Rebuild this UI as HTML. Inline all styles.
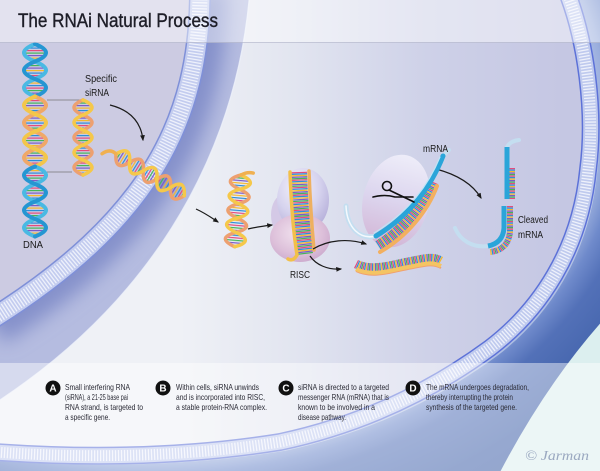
<!DOCTYPE html>
<html><head><meta charset="utf-8"><style>
html,body{margin:0;padding:0;background:#fff;}
svg{display:block;}
</style></head><body>
<svg width="600" height="471" viewBox="0 0 600 471" xmlns="http://www.w3.org/2000/svg">
<defs>
 <linearGradient id="cyto" gradientUnits="userSpaceOnUse" x1="180" y1="0" x2="560" y2="0">
  <stop offset="0" stop-color="#eff1f6"/>
  <stop offset="0.3" stop-color="#e2e5f0"/>
  <stop offset="0.65" stop-color="#ced1e8"/>
  <stop offset="1" stop-color="#c5c7e3"/>
 </linearGradient>
 <radialGradient id="outer" gradientUnits="userSpaceOnUse" cx="0" cy="0" r="1.4" gradientTransform="translate(150,110) scale(455,350)">
  <stop offset="0.68" stop-color="#b8c6ea"/>
  <stop offset="0.715" stop-color="#9aaedd"/>
  <stop offset="0.745" stop-color="#6f8acb"/>
  <stop offset="0.78" stop-color="#5371b8"/>
  <stop offset="0.88" stop-color="#4061a9"/>
  <stop offset="1" stop-color="#3a5aa3"/>
 </radialGradient>
 <radialGradient id="lav" cx="0.4" cy="0.3" r="0.7"><stop offset="0" stop-color="#f4f2fb"/><stop offset="0.6" stop-color="#d6d3ee"/><stop offset="1" stop-color="#b9b3dc"/></radialGradient>
 <radialGradient id="pnk" cx="0.45" cy="0.4" r="0.7"><stop offset="0" stop-color="#f1e2ee"/><stop offset="0.6" stop-color="#ddc0da"/><stop offset="1" stop-color="#c6a3c9"/></radialGradient>
 <linearGradient id="blob2" x1="0" y1="0" x2="0" y2="1"><stop offset="0" stop-color="#eeedf9"/><stop offset="0.5" stop-color="#dcd5ee"/><stop offset="1" stop-color="#d3b6d6"/></linearGradient>
 <pattern id="bph" patternUnits="userSpaceOnUse" width="40" height="12.5">
  <rect y="0" width="40" height="1.2" fill="#e44b7c"/>
  <rect y="2.5" width="40" height="1.2" fill="#46b45a"/>
  <rect y="5" width="40" height="1.2" fill="#7b5bc6"/>
  <rect y="7.5" width="40" height="1.2" fill="#f4b82e"/>
  <rect y="10" width="40" height="1.2" fill="#2e8ed8"/>
 </pattern>
 <pattern id="bpv" patternUnits="userSpaceOnUse" width="12.5" height="40">
  <rect x="0" width="1.2" height="40" fill="#e44b7c"/>
  <rect x="2.5" width="1.2" height="40" fill="#46b45a"/>
  <rect x="5" width="1.2" height="40" fill="#7b5bc6"/>
  <rect x="7.5" width="1.2" height="40" fill="#f4b82e"/>
  <rect x="10" width="1.2" height="40" fill="#2e8ed8"/>
 </pattern>
 <filter id="bl" x="-50%" y="-50%" width="200%" height="200%"><feGaussianBlur stdDeviation="9"/></filter>
 <clipPath id="nucClip"><path d="M250,-10 C240,120 180,280 0,400 L-10,400 L-10,-10 Z"/></clipPath>
 <path id="nucm" d="M200,-10 C200,120 150,220 -10,320" fill="none"/>
 <path id="cellm" d="M568,-5 C585,40 596,110 588,170 C580,250 540,310 490,348 C430,392 360,425 280,442 C180,458 80,458 -5,452" fill="none"/>
 <marker id="ah" viewBox="0 0 10 10" refX="8" refY="5" markerWidth="5" markerHeight="5" orient="auto"><path d="M0,1 L10,5 L0,9 Z" fill="#1a1a1a"/></marker>
 <path id="risc" d="M299,172 C300,200 302,230 305,254" fill="none"/>
 <path id="unw" d="M356,264 C372,272 392,265 408,262 C424,259 432,256 441,261" fill="none"/>
 <path id="mr" d="M433,182 C424,204 404,230 378,246" fill="none"/>
 <path id="cu" d="M512,168 L512,199" fill="none"/>
 <path id="cl" d="M510,206 L510,232 Q508,250 490,252" fill="none"/>
</defs>

<!-- cytoplasm -->
<rect x="0" y="0" width="600" height="471" fill="url(#cyto)"/>
<!-- outside cell -->
<path d="M568,-5 C585,40 596,110 588,170 C580,250 540,310 490,348 C430,392 360,425 280,442 C180,458 80,458 -5,452 L-5,480 L605,480 L605,-5 Z" fill="url(#outer)"/>
<path d="M605,318 Q545,385 498,476 L605,476 Z" fill="#dcefef"/>

<!-- nucleus band -->
<path d="M250,-10 C240,120 180,280 0,400 L-10,400 L-10,-10 Z" fill="#b5bce0"/>
<g clip-path="url(#nucClip)">
 <use href="#nucm" stroke="#8591cb" stroke-width="55" filter="url(#bl)"/>
</g>
<path d="M200,-10 C200,120 150,220 -10,320 L-10,-10 Z" fill="#cccbe2"/>
<path d="M250,-10 C240,120 180,280 0,400" fill="none" stroke="#eef1fa" stroke-width="1.3" opacity="0.8"/>

<!-- nucleus membrane -->
<use href="#nucm" stroke="#7f90d8" stroke-width="22"/>
<use href="#nucm" stroke="#c3ccef" stroke-width="19"/>
<use href="#nucm" stroke="#eef1fb" stroke-width="15" stroke-dasharray="1.3 1.7"/>

<!-- cell membrane -->
<use href="#cellm" transform="translate(4,4)" stroke="#e6ecf8" stroke-width="10" opacity="0.5"/>
<use href="#cellm" stroke="#5d72d8" stroke-width="18"/>
<use href="#cellm" stroke="#bfcaee" stroke-width="15"/>
<use href="#cellm" stroke="#eef1fb" stroke-width="11" stroke-dasharray="1.3 1.7"/>

<!-- DNA -->
<path fill="url(#bph)" d="M35,44 Q57,52.75 35,61.5 Q13,52.75 35,44Z M35,61.5 Q57,70.25 35,79 Q13,70.25 35,61.5Z M35,79 Q57,87.75 35,96.5 Q13,87.75 35,79Z M35,96.5 Q57,105.25 35,114 Q13,105.25 35,96.5Z M35,114 Q57,122.75 35,131.5 Q13,122.75 35,114Z M35,131.5 Q57,140.25 35,149 Q13,140.25 35,131.5Z M35,149 Q57,157.75 35,166.5 Q13,157.75 35,149Z M35,166.5 Q57,175.25 35,184 Q13,175.25 35,166.5Z M35,184 Q57,192.75 35,201.5 Q13,192.75 35,184Z M35,201.5 Q57,210.25 35,219 Q13,210.25 35,201.5Z M35,219 Q57,227.75 35,236.5 Q13,227.75 35,219Z"/>
<g fill="none" stroke-width="4" stroke-linecap="round">
 <path stroke="#49b9e3" d="M35,44 Q13,52.75 35,61.5 T35,79 T35,96.5"/>
 <path stroke="#2596d2" d="M35,44 Q57,52.75 35,61.5 T35,79 T35,96.5"/>
 <path stroke="#f0a868" d="M35,96.5 Q57,105.25 35,114 T35,131.5 T35,149 T35,166.5"/>
 <path stroke="#f3c64a" d="M35,96.5 Q13,105.25 35,114 T35,131.5 T35,149 T35,166.5"/>
 <path stroke="#49b9e3" d="M35,166.5 Q57,175.25 35,184 T35,201.5 T35,219 T35,236.5"/>
 <path stroke="#2596d2" d="M35,166.5 Q13,175.25 35,184 T35,201.5 T35,219 T35,236.5"/>
</g>
<path d="M47,100 L84,100 M47,172 L72,172" stroke="#777" stroke-width="0.8" fill="none"/>

<!-- siRNA helix -->
<path fill="url(#bph)" d="M83,100 Q101,107.5 83,115 Q65,107.5 83,100Z M83,115 Q101,122.5 83,130 Q65,122.5 83,115Z M83,130 Q101,137.5 83,145 Q65,137.5 83,130Z M83,145 Q101,152.5 83,160 Q65,152.5 83,145Z M83,160 Q101,167.5 83,175 Q65,167.5 83,160Z"/>
<g fill="none" stroke-width="3.5" stroke-linecap="round">
 <path stroke="#eda070" d="M83,100 Q65,107.5 83,115 T83,130 T83,145 T83,160 T83,175"/>
 <path stroke="#f5c84a" d="M83,100 Q101,107.5 83,115 T83,130 T83,145 T83,160 T83,175"/>
</g>

<!-- tilted helix crossing membrane -->
<g transform="translate(116,154) rotate(31.5)">
 <path fill="url(#bpv)" d="M0,0 Q8,-16 16,0 Q8,16 0,0Z M16,0 Q24,-16 32,0 Q24,16 16,0Z M32,0 Q40,-16 48,0 Q40,16 32,0Z M48,0 Q56,-16 64,0 Q56,16 48,0Z M64,0 Q72,-16 80,0 Q72,16 64,0Z"/>
 <g fill="none" stroke-width="3.5" stroke-linecap="round">
  <path stroke="#eda070" d="M0,0 Q8,16 16,0 T32,0 T48,0 T64,0 T80,0"/>
  <path stroke="#f5c84a" d="M0,0 Q8,-16 16,0 T32,0 T48,0 T64,0 T80,0"/>
  <path stroke="#f0b050" d="M0,0 Q-8,-2 -12,7"/>
 </g>
</g>

<!-- small vertical helix -->
<g transform="translate(241,175) rotate(5)">
 <path fill="url(#bph)" d="M0,0 Q20,7.2 0,14.4 Q-20,7.2 0,0Z M0,14.4 Q20,21.6 0,28.8 Q-20,21.6 0,14.4Z M0,28.8 Q20,36 0,43.2 Q-20,36 0,28.8Z M0,43.2 Q20,50.4 0,57.6 Q-20,50.4 0,43.2Z M0,57.6 Q20,64.8 0,72 Q-20,64.8 0,57.6Z"/>
 <g fill="none" stroke-width="3.5" stroke-linecap="round">
  <path stroke="#eda070" d="M0,0 Q-20,7.2 0,14.4 T0,28.8 T0,43.2 T0,57.6 T0,72"/>
  <path stroke="#f5c84a" d="M0,0 Q20,7.2 0,14.4 T0,28.8 T0,43.2 T0,57.6 T0,72"/>
  <path stroke="#f0b050" d="M0,0 Q6,-4 12,-3"/>
 </g>
</g>

<!-- RISC -->
<ellipse cx="283" cy="215" rx="12" ry="20" fill="#d4c9e6"/>
<ellipse cx="303" cy="200" rx="26" ry="32" fill="url(#lav)"/>
<ellipse cx="300" cy="238" rx="30" ry="24" fill="url(#pnk)"/>
<g fill="none">
 <use href="#risc" stroke="#e44b7c" stroke-width="16" stroke-dasharray="1.2 6.3" stroke-dashoffset="0"/>
 <use href="#risc" stroke="#46b45a" stroke-width="16" stroke-dasharray="1.2 6.3" stroke-dashoffset="1.5"/>
 <use href="#risc" stroke="#7b5bc6" stroke-width="16" stroke-dasharray="1.2 6.3" stroke-dashoffset="3"/>
 <use href="#risc" stroke="#f4b82e" stroke-width="16" stroke-dasharray="1.2 6.3" stroke-dashoffset="4.5"/>
 <use href="#risc" stroke="#2e8ed8" stroke-width="16" stroke-dasharray="1.2 6.3" stroke-dashoffset="6"/>
 <path d="M290,172 C291,200 293,230 297,255 Q293,262 288,259" stroke="#f2c04a" stroke-width="3.5" stroke-linecap="round"/>
 <path d="M309,171 C310,200 312,228 314,250" stroke="#eeb060" stroke-width="3.5" stroke-linecap="round"/>
</g>
<g fill="none" stroke="#1a1a1a" stroke-width="1.2">
 <path d="M196,209 C205,213 212,218 218,222" marker-end="url(#ah)"/>
 <path d="M110,105 C130,110 141,122 143,140" marker-end="url(#ah)"/>
 <path d="M248,229 C256,227 264,226 272,225" marker-end="url(#ah)"/>
 <path d="M313,249 C328,240 348,238 366,244" marker-end="url(#ah)"/>
 <path d="M310,256 C316,265 328,270 341,269" marker-end="url(#ah)"/>
 <path d="M436,169 C455,174 472,183 481,198" marker-end="url(#ah)"/>
</g>

<!-- unwound strand -->
<g fill="none">
 <use href="#unw" stroke="#e44b7c" stroke-width="9" stroke-dasharray="1.2 6.3" stroke-dashoffset="0"/>
 <use href="#unw" stroke="#46b45a" stroke-width="9" stroke-dasharray="1.2 6.3" stroke-dashoffset="1.5"/>
 <use href="#unw" stroke="#7b5bc6" stroke-width="9" stroke-dasharray="1.2 6.3" stroke-dashoffset="3"/>
 <use href="#unw" stroke="#f4b82e" stroke-width="9" stroke-dasharray="1.2 6.3" stroke-dashoffset="4.5"/>
 <use href="#unw" stroke="#2e8ed8" stroke-width="9" stroke-dasharray="1.2 6.3" stroke-dashoffset="6"/>
 <path d="M356,271 C372,279 392,272 408,269 C424,266 432,263 441,268" stroke="#f0a070" stroke-width="2"/>
 <path d="M356,269 C372,277 392,270 408,267 C424,264 432,261 441,266" stroke="#f4c463" stroke-width="4"/>
</g>

<!-- mRNA complex -->
<ellipse cx="396" cy="201" rx="33" ry="47" transform="rotate(14 396 201)" fill="url(#blob2)"/>
<g fill="none" stroke-linecap="round">
 <path d="M376,236 C360,240 347,228 346,206" stroke="#c4def0" stroke-width="5"/>
 <path d="M376,236 C360,240 347,228 346,206" stroke="#f4f9fd" stroke-width="1.5"/>
 <use href="#mr" stroke="#e44b7c" stroke-width="11" stroke-dasharray="1.2 6.3" stroke-dashoffset="0" stroke-linecap="butt"/>
 <use href="#mr" stroke="#46b45a" stroke-width="11" stroke-dasharray="1.2 6.3" stroke-dashoffset="1.5" stroke-linecap="butt"/>
 <use href="#mr" stroke="#7b5bc6" stroke-width="11" stroke-dasharray="1.2 6.3" stroke-dashoffset="3" stroke-linecap="butt"/>
 <use href="#mr" stroke="#f4b82e" stroke-width="11" stroke-dasharray="1.2 6.3" stroke-dashoffset="4.5" stroke-linecap="butt"/>
 <use href="#mr" stroke="#2e8ed8" stroke-width="11" stroke-dasharray="1.2 6.3" stroke-dashoffset="6" stroke-linecap="butt"/>
 <path d="M437,186 C428,210 408,236 380,252" stroke="#f2b060" stroke-width="4"/>
 <path d="M443,156 L449,150" stroke="#c4def0" stroke-width="4"/>
 <path d="M443,156 C432,184 412,214 376,236" stroke="#2aa5d9" stroke-width="5"/>
 <path d="M440,157 C429,184 409,212 374,233" stroke="#bfe4f5" stroke-width="1.2"/>
</g>
<!-- scissors -->
<g fill="none" stroke="#111" stroke-width="1.6" stroke-linecap="round">
 <circle cx="387" cy="186" r="4.5"/>
 <path d="M389,190 L414,202"/>
 <path d="M373,197 Q385,194 395,197 L413,197"/>
</g>

<!-- cleaved mRNA -->
<g fill="none">
 <use href="#cu" stroke="#e44b7c" stroke-width="6" stroke-dasharray="1.2 6.3" stroke-dashoffset="0"/>
 <use href="#cu" stroke="#46b45a" stroke-width="6" stroke-dasharray="1.2 6.3" stroke-dashoffset="1.5"/>
 <use href="#cu" stroke="#7b5bc6" stroke-width="6" stroke-dasharray="1.2 6.3" stroke-dashoffset="3"/>
 <use href="#cu" stroke="#f4b82e" stroke-width="6" stroke-dasharray="1.2 6.3" stroke-dashoffset="4.5"/>
 <use href="#cu" stroke="#2e8ed8" stroke-width="6" stroke-dasharray="1.2 6.3" stroke-dashoffset="6"/>
 <use href="#cl" stroke="#e44b7c" stroke-width="6" stroke-dasharray="1.2 6.3" stroke-dashoffset="0"/>
 <use href="#cl" stroke="#46b45a" stroke-width="6" stroke-dasharray="1.2 6.3" stroke-dashoffset="1.5"/>
 <use href="#cl" stroke="#7b5bc6" stroke-width="6" stroke-dasharray="1.2 6.3" stroke-dashoffset="3"/>
 <use href="#cl" stroke="#f4b82e" stroke-width="6" stroke-dasharray="1.2 6.3" stroke-dashoffset="4.5"/>
 <use href="#cl" stroke="#2e8ed8" stroke-width="6" stroke-dasharray="1.2 6.3" stroke-dashoffset="6"/>
 <path d="M507,147 Q510,141 519,140" stroke="#c4def0" stroke-width="4" stroke-linecap="round"/>
 <path d="M507,147 L507,199" stroke="#2aa5d9" stroke-width="5"/>
 <path d="M488,246 C472,248 460,240 455,228" stroke="#c4def0" stroke-width="4" stroke-linecap="round"/>
 <path d="M504,206 L504,228 Q503,243 488,246" stroke="#2aa5d9" stroke-width="5"/>
</g>

<!-- overlays -->
<rect x="0" y="0" width="600" height="42" fill="#fff" opacity="0.45"/>
<line x1="0" y1="42.5" x2="600" y2="42.5" stroke="#b9bccf" stroke-width="1" opacity="0.7"/>
<rect x="0" y="363" width="600" height="108" fill="#fff" opacity="0.45"/>

<!-- title -->
<text x="18" y="27" font-family="Liberation Sans, sans-serif" font-size="19.5" fill="#1e1e28" stroke="#1e1e28" stroke-width="0.4" textLength="200" lengthAdjust="spacingAndGlyphs">The RNAi Natural Process</text>

<!-- labels -->
<g font-family="Liberation Sans, sans-serif" fill="#1a1a1a" font-size="10">
 <text x="85" y="82" textLength="32" lengthAdjust="spacingAndGlyphs">Specific</text>
 <text x="85" y="96" textLength="24" lengthAdjust="spacingAndGlyphs">siRNA</text>
 <text x="23" y="248" textLength="20" lengthAdjust="spacingAndGlyphs" font-size="10.5">DNA</text>
 <text x="290" y="278" textLength="20" lengthAdjust="spacingAndGlyphs" font-size="10.5">RISC</text>
 <text x="423" y="152" textLength="25" lengthAdjust="spacingAndGlyphs">mRNA</text>
 <text x="518" y="223" textLength="30" lengthAdjust="spacingAndGlyphs">Cleaved</text>
 <text x="518" y="238" textLength="25" lengthAdjust="spacingAndGlyphs">mRNA</text>
</g>

<!-- captions -->
<g font-family="Liberation Sans, sans-serif">
 <circle cx="53" cy="388" r="7.5" fill="#111"/>
 <circle cx="163" cy="388" r="7.5" fill="#111"/>
 <circle cx="286" cy="388" r="7.5" fill="#111"/>
 <circle cx="413" cy="388" r="7.5" fill="#111"/>
 <g fill="#fff" font-size="10" font-weight="bold" text-anchor="middle">
  <text x="53" y="391.6">A</text>
  <text x="163" y="391.6">B</text>
  <text x="286" y="391.6">C</text>
  <text x="413" y="391.6">D</text>
 </g>
 <g fill="#2a2a35" font-size="8.5">
  <text x="65" y="390" textLength="65" lengthAdjust="spacingAndGlyphs">Small interfering RNA</text>
  <text x="65" y="400" textLength="63" lengthAdjust="spacingAndGlyphs">(siRNA), a 21-25 base pai</text>
  <text x="65" y="410" textLength="78" lengthAdjust="spacingAndGlyphs">RNA strand, is targeted to</text>
  <text x="65" y="420" textLength="45" lengthAdjust="spacingAndGlyphs">a specific gene.</text>
  <text x="176" y="390" textLength="83" lengthAdjust="spacingAndGlyphs">Within cells, siRNA unwinds</text>
  <text x="176" y="400" textLength="89" lengthAdjust="spacingAndGlyphs">and is incorporated into RISC,</text>
  <text x="176" y="410" textLength="91" lengthAdjust="spacingAndGlyphs">a stable protein-RNA complex.</text>
  <text x="298" y="390" textLength="91" lengthAdjust="spacingAndGlyphs">siRNA is directed to a targeted</text>
  <text x="298" y="400" textLength="91" lengthAdjust="spacingAndGlyphs">messenger RNA (mRNA) that is</text>
  <text x="298" y="410" textLength="77" lengthAdjust="spacingAndGlyphs">known to be involved in a</text>
  <text x="298" y="420" textLength="48" lengthAdjust="spacingAndGlyphs">disease pathway.</text>
  <text x="426" y="390" textLength="103" lengthAdjust="spacingAndGlyphs">The mRNA undergoes degradation,</text>
  <text x="426" y="400" textLength="87" lengthAdjust="spacingAndGlyphs">thereby interrupting the protein</text>
  <text x="426" y="410" textLength="91" lengthAdjust="spacingAndGlyphs">synthesis of the targeted gene.</text>
 </g>
</g>
<text x="525" y="460" font-family="Liberation Serif, serif" font-style="italic" font-size="14" fill="#9aa8c0" textLength="64" lengthAdjust="spacingAndGlyphs">© Jarman</text>
</svg>
</body></html>
